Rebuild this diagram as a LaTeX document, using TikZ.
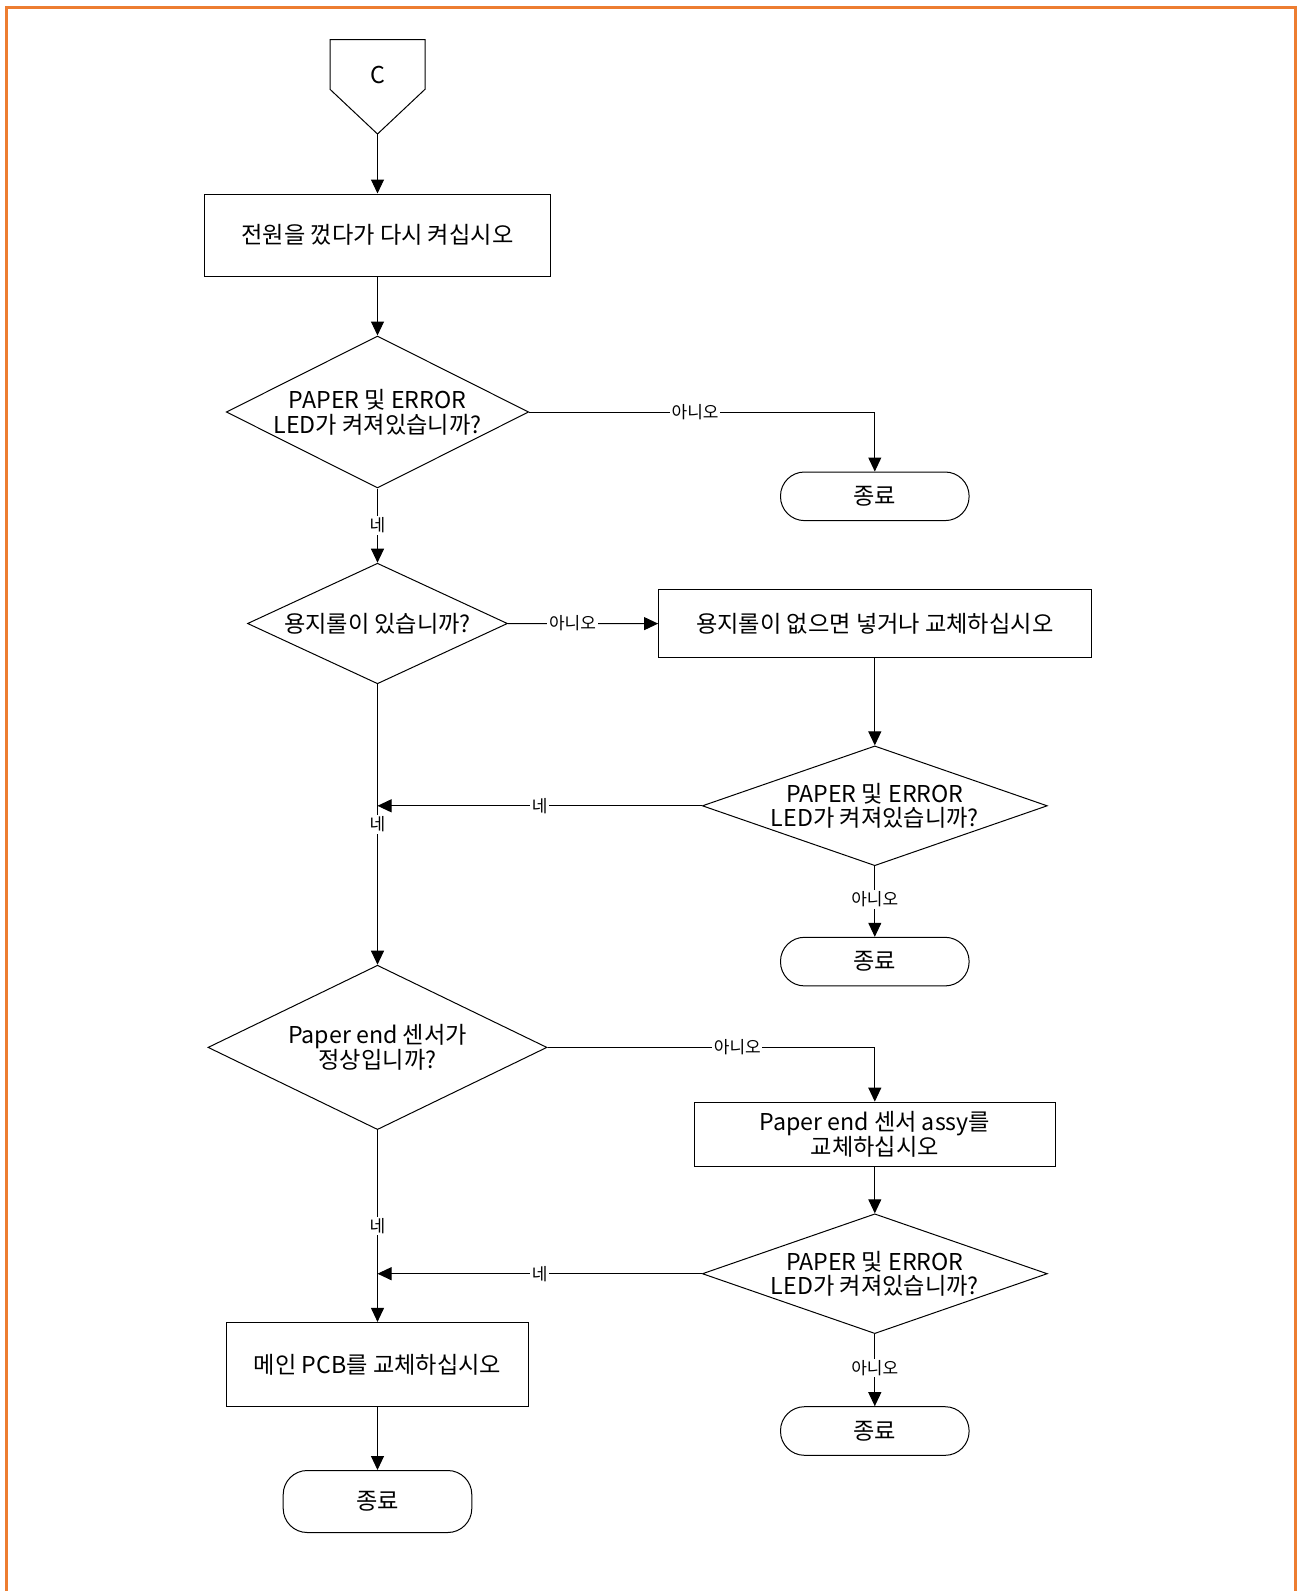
\documentclass[tikz,border=0pt]{standalone}
\usepackage{fontspec}
\setmainfont{Noto Sans CJK KR}
\usepackage{xcolor}
\usepackage{tikz}
\usetikzlibrary{arrows.meta,positioning,shapes.geometric}
\definecolor{frameorange}{RGB}{237,125,49}

\begin{document}
\begin{tikzpicture}[x=0.5pt, y=-0.5pt, line width=0.5pt,
    font=\fontsize{11.6}{12.4}\selectfont,
    >={Triangle[length=7pt, width=6.5pt]},
    procbox/.style={draw, rectangle, align=center, inner sep=0pt},
    decision/.style={draw, diamond, align=center, inner sep=0pt},
    endbox/.style={draw, rectangle, rounded corners=12pt, inner sep=0pt, minimum width=94.3pt},
    lbl/.style={fill=white, inner sep=0.8pt, font=\fontsize{8.5}{9}\selectfont}]
  \useasboundingbox (0,0) rectangle (1297,1591);
  % page frame
  \draw[frameorange, line width=1.5pt] (6,1600) -- (6,7.5) -- (1295,7.5) -- (1295,1600);

  % off-page connector C
  \draw (330,39.6) -- (425,39.6) -- (425,89.3) -- (377.5,134) -- (330,89.3) -- cycle;
  \node (conC) at (377.5,75) {C};
  \coordinate (conTip) at (377.5,134);

  % left column
  \node[procbox, minimum width=173pt, minimum height=41pt] (power) at (377.5,235) {전원을 껐다가 다시 켜십시오};
  \node[decision, aspect=1.99, minimum width=151.2pt, minimum height=76pt] (ledA) at (377.5,412) {PAPER 및 ERROR\\LED가 켜져있습니까?};
  \node[decision, aspect=2.15, minimum width=130pt, minimum height=60.3pt] (roll) at (377.5,623.5) {용지롤이 있습니까?};
  \node[decision, aspect=2.06, minimum width=169.5pt, minimum height=82.2pt] (sensor) at (377.5,1047.4) {Paper end 센서가\\정상입니까?};
  \node[procbox, minimum width=150.7pt, minimum height=42.2pt] (pcb) at (377.5,1364.6) {메인 PCB를 교체하십시오};
  \node[endbox, minimum height=31pt] (endD) at (377.5,1501.5) {종료};
  \coordinate (joinB) at (377.5,805.8);
  \coordinate (joinC) at (377.5,1273.7);

  % right column
  \node[endbox, minimum height=24.3pt] (endA) at (874.8,496.3) {종료};
  \node[procbox, minimum width=216.2pt, minimum height=34pt] (load) at (874.8,623.7) {용지롤이 없으면 넣거나 교체하십시오};
  \node[decision, aspect=2.88, minimum width=172.5pt, minimum height=59.9pt] (ledB) at (874.8,805.8) {PAPER 및 ERROR\\LED가 켜져있습니까?};
  \node[endbox, minimum height=24.3pt] (endB) at (874.8,961.6) {종료};
  \node[procbox, minimum width=180.6pt, minimum height=32pt] (assy) at (874.8,1134.1) {Paper end 센서 assy를\\교체하십시오};
  \node[decision, aspect=2.88, minimum width=172.5pt, minimum height=59.9pt] (ledC) at (874.8,1273.7) {PAPER 및 ERROR\\LED가 켜져있습니까?};
  \node[endbox, minimum height=24.3pt] (endC) at (874.8,1431) {종료};

  % connectors
  \draw[->] (conTip) -- (power);
  \draw[->] (power) -- (ledA);
  \draw[->] (ledA.east) -| node[lbl, pos=0.24] {아니오} (endA.north);
  \draw[->] (ledA) -- node[lbl] {네} (roll);
  \draw[->] (roll) -- node[lbl, pos=0.43] {아니오} (load);
  \draw[->] (load) -- (ledB);
  \draw[->] (ledB) -- node[lbl] {네} (joinB);
  \draw[->] (roll) -- node[lbl] {네} (sensor);
  \draw[->] (ledB) -- node[lbl, pos=0.47] {아니오} (endB);
  \draw[->] (sensor.east) -| node[lbl, pos=0.29] {아니오} (assy.north);
  \draw[->] (assy) -- (ledC);
  \draw[->] (ledC) -- node[lbl] {네} (joinC);
  \draw[->] (sensor) -- node[lbl] {네} (pcb);
  \draw[->] (ledC) -- node[lbl, pos=0.47] {아니오} (endC);
  \draw[->] (pcb) -- (endD);
\end{tikzpicture}
\end{document}
